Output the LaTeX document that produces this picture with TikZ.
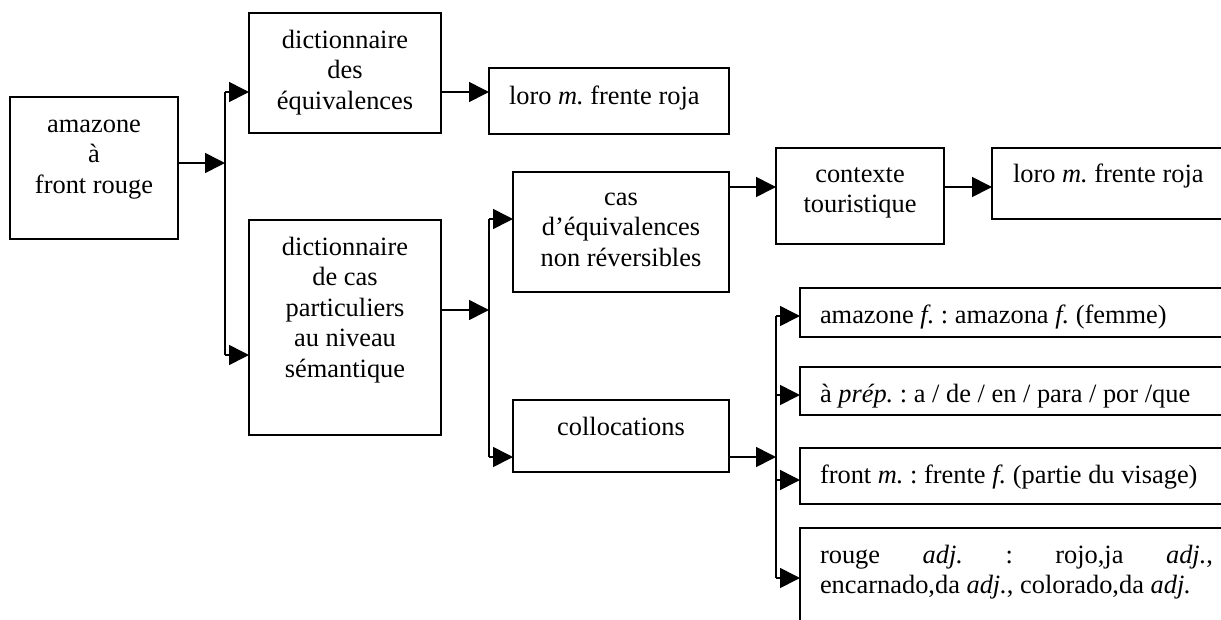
\documentclass[tikz,border=0pt]{standalone}
\usepackage{fontspec}
\setmainfont{Liberation Serif}
\usetikzlibrary{arrows.meta}
\frenchspacing
\begin{document}
\begin{tikzpicture}[x=1pt,y=-1pt,
  bx/.style 2 args={draw,line width=1.6pt,inner sep=0pt,outer sep=0pt,minimum width=#1,minimum height=#2},
  ln/.style={line width=1.6pt},
  arr/.style={line width=1.6pt,-{Triangle[length=20pt,width=20pt]}},
  txt/.style={inner sep=0pt,outer sep=0pt,align=center,anchor=north,font=\fontsize{26.4}{30.5}\selectfont},
  ltxt/.style={inner sep=0pt,outer sep=0pt,anchor=base west,font=\fontsize{26.4}{30.5}\selectfont}]
\useasboundingbox (0,0) rectangle (1221,619);
\begin{scope}
\clip (0,0) rectangle (1221,619);
% boxes
\node[bx={168}{142}] (A) at (94,168) {};
\node[bx={192}{120}] (B) at (345,73) {};
\node[bx={240}{66}]  (C) at (609,101) {};
\node[bx={192}{215}] (D) at (345,327.5) {};
\node[bx={216}{120}] (E) at (621,232) {};
\node[bx={216}{72}]  (F) at (621,436) {};
\node[bx={168}{96}]  (G) at (860,196) {};
\node[bx={248}{71}]  (H) at (1116,183.5) {};
\node[bx={440}{49}]  (I) at (1020,312.5) {};
\node[bx={440}{48}]  (J) at (1020,391) {};
\node[bx={440}{56}]  (K) at (1020,476) {};
\node[bx={440}{112}] (L) at (1020,584) {};
% texts
\node[txt] (tA) at (94,110.65) {\strut amazone\\à\\front rouge};
\node[txt] (tB) at (345,26.65) {\strut dictionnaire\\des\\équivalences};
\node[ltxt] (tC) at (509,104) {loro \textit{m.} frente roja};
\node[txt] (tD) at (345,233.65) {\strut dictionnaire\\de cas\\particuliers\\au niveau\\sémantique};
\node[txt] (tE) at (621,183.65) {\strut cas\\d’équivalences\\non réversibles};
\node[txt] (tF) at (621,413.65) {\strut collocations};
\node[txt] (tG) at (860,160.65) {\strut contexte\\touristique};
\node[ltxt] (tH) at (1013,182) {loro \textit{m.} frente roja};
\node[ltxt] (tI) at (820,323) {amazone \textit{f.} : amazona \textit{f.} (femme)};
\node[ltxt] (tJ) at (820,402) {à \textit{prép.} : a / de / en / para / por /que};
\node[ltxt] (tK) at (820,483) {front \textit{m.} : frente \textit{f.} (partie du visage)};
\node[inner sep=0pt,outer sep=0pt,anchor=north west,text width=393pt,align=justify,font=\fontsize{26.4}{30.5}\selectfont] (tL) at (820,541.65)
  {\strut rouge \textit{adj.} : rojo,ja \textit{adj.},\linebreak encarnado,da \textit{adj.}, colorado,da \textit{adj.}};
% bus coordinates
\coordinate (b1t) at (225,92);
\coordinate (b1m) at (225,163);
\coordinate (b1b) at (225,355);
\coordinate (b2t) at (489,219);
\coordinate (b2m) at (489,310);
\coordinate (b2b) at (489,457);
\coordinate (r1)  at (750,187);
\coordinate (b3t) at (776,316);
\coordinate (b3j) at (776,395);
\coordinate (b3m) at (776,457);
\coordinate (b3k) at (776,480);
\coordinate (b3b) at (776,578);
% connectors
\draw[ln] (b1t) -- (b1b);
\draw[arr] (A.east |- b1m) -- (b1m);
\draw[arr] (b1t) -- (B.west |- b1t);
\draw[arr] (b1b) -- (D.west |- b1b);
\draw[arr] (B.east |- b1t) -- (C.west |- b1t);
\draw[ln] (b2t) -- (b2b);
\draw[arr] (D.east |- b2m) -- (b2m);
\draw[arr] (b2t) -- (E.west |- b2t);
\draw[arr] (b2b) -- (F.west |- b2b);
\draw[arr] (E.east |- r1) -- (G.west |- r1);
\draw[arr] (G.east |- r1) -- (H.west |- r1);
\draw[ln] (b3t) -- (b3b);
\draw[arr] (F.east |- b3m) -- (b3m);
\draw[arr] (b3t) -- (I.west |- b3t);
\draw[arr] (b3j) -- (J.west |- b3j);
\draw[arr] (b3k) -- (K.west |- b3k);
\draw[arr] (b3b) -- (L.west |- b3b);
\end{scope}
\end{tikzpicture}
\end{document}
